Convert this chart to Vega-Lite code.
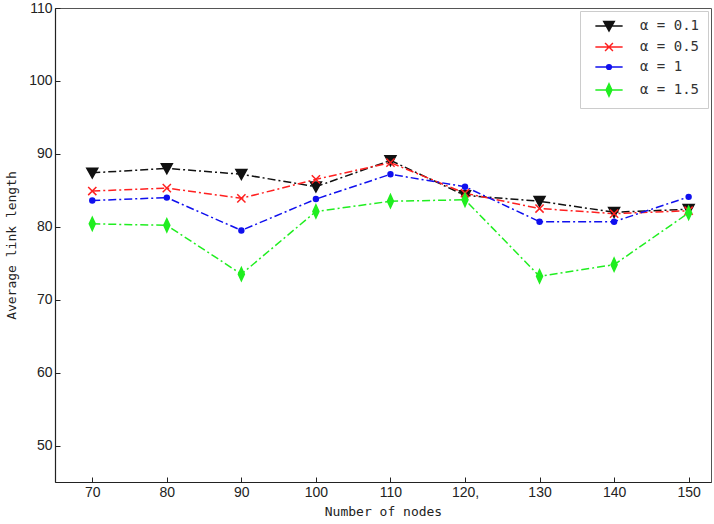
{
  "$schema": "https://vega.github.io/schema/vega-lite/v6.json",
  "width": 656,
  "height": 474,
  "autosize": "none",
  "padding": {"left": 55, "top": 8, "right": 3, "bottom": 42},
  "background": "white",
  "config": {
    "view": {"stroke": "#555", "strokeWidth": 1},
    "axis": {
      "grid": false,
      "domainColor": "#222",
      "domainWidth": 1.2,
      "tickColor": "#222",
      "tickSize": -5,
      "labelFont": "Liberation Sans",
      "labelFontSize": 14,
      "labelColor": "#222",
      "titleFont": "DejaVu Sans Mono",
      "titleFontSize": 13,
      "titleFontWeight": "normal",
      "titleColor": "#222"
    }
  },
  "data": {
    "values": [
      {"nodes": 70, "s": "α = 0.1", "v": 87.4},
      {"nodes": 80, "s": "α = 0.1", "v": 88.0},
      {"nodes": 90, "s": "α = 0.1", "v": 87.2},
      {"nodes": 100, "s": "α = 0.1", "v": 85.5},
      {"nodes": 110, "s": "α = 0.1", "v": 89.1},
      {"nodes": 120, "s": "α = 0.1", "v": 84.3},
      {"nodes": 130, "s": "α = 0.1", "v": 83.5},
      {"nodes": 140, "s": "α = 0.1", "v": 82.0},
      {"nodes": 150, "s": "α = 0.1", "v": 82.4},
      {"nodes": 70, "s": "α = 0.5", "v": 84.9},
      {"nodes": 80, "s": "α = 0.5", "v": 85.3},
      {"nodes": 90, "s": "α = 0.5", "v": 83.9},
      {"nodes": 100, "s": "α = 0.5", "v": 86.5},
      {"nodes": 110, "s": "α = 0.5", "v": 88.8},
      {"nodes": 120, "s": "α = 0.5", "v": 84.6},
      {"nodes": 130, "s": "α = 0.5", "v": 82.5},
      {"nodes": 140, "s": "α = 0.5", "v": 81.8},
      {"nodes": 150, "s": "α = 0.5", "v": 82.2},
      {"nodes": 70, "s": "α = 1", "v": 83.6},
      {"nodes": 80, "s": "α = 1", "v": 84.0},
      {"nodes": 90, "s": "α = 1", "v": 79.5},
      {"nodes": 100, "s": "α = 1", "v": 83.8},
      {"nodes": 110, "s": "α = 1", "v": 87.2},
      {"nodes": 120, "s": "α = 1", "v": 85.5},
      {"nodes": 130, "s": "α = 1", "v": 80.7},
      {"nodes": 140, "s": "α = 1", "v": 80.7},
      {"nodes": 150, "s": "α = 1", "v": 84.1},
      {"nodes": 70, "s": "α = 1.5", "v": 80.4},
      {"nodes": 80, "s": "α = 1.5", "v": 80.2},
      {"nodes": 90, "s": "α = 1.5", "v": 73.5},
      {"nodes": 100, "s": "α = 1.5", "v": 82.1},
      {"nodes": 110, "s": "α = 1.5", "v": 83.5},
      {"nodes": 120, "s": "α = 1.5", "v": 83.7},
      {"nodes": 130, "s": "α = 1.5", "v": 73.2},
      {"nodes": 140, "s": "α = 1.5", "v": 74.8},
      {"nodes": 150, "s": "α = 1.5", "v": 81.9}
    ]
  },
  "encoding": {
    "x": {
      "field": "nodes",
      "type": "quantitative",
      "scale": {"domain": [65, 153], "nice": false, "zero": false},
      "axis": {
        "title": "Number of nodes",
        "values": [70, 80, 90, 100, 110, 120, 130, 140, 150],
        "labelExpr": "datum.value == 120 ? '120,' : datum.label",
        "labelPadding": 8,
        "titlePadding": 6
      }
    },
    "y": {
      "field": "v",
      "type": "quantitative",
      "scale": {"domain": [45, 110], "nice": false, "zero": false},
      "axis": {
        "title": "Average link length",
        "values": [50, 60, 70, 80, 90, 100, 110],
        "labelPadding": 8,
        "titlePadding": 10
      }
    },
    "stroke": {
      "field": "s",
      "type": "nominal",
      "scale": {
        "domain": ["α = 0.1", "α = 0.5", "α = 1", "α = 1.5"],
        "range": ["#111111", "#ff2020", "#1010ee", "#20ee20"]
      },
      "legend": {
        "title": null,
        "orient": "top-right",
        "offset": 3,
        "padding": 8,
        "strokeColor": "#cccccc",
        "fillColor": "white",
        "labelFont": "DejaVu Sans Mono",
        "labelFontSize": 14,
        "labelColor": "#333",
        "rowPadding": 6,
        "symbolSize": 110,
        "symbolStrokeWidth": 1.5,
        "symbolOffset": 14,
        "labelOffset": 24,
        "symbolType": {
          "expr": "datum.value == 'α = 0.1' ? 'M-2.6,0H2.6M-1,-0.85L1,-0.85L0,0.95Z' : datum.value == 'α = 0.5' ? 'M-2.6,0H2.6M-0.75,-0.75L0.75,0.75M-0.75,0.75L0.75,-0.75' : datum.value == 'α = 1' ? 'M-2.6,0H2.6M0.45,0A0.45,0.45 0 1,1 -0.45,0A0.45,0.45 0 1,1 0.45,0Z' : 'M-2.6,0H2.6M0,-1.2L0.55,0L0,1.2L-0.55,0Z'"
        }
      }
    }
  },
  "layer": [
    {
      "mark": {"type": "line", "strokeWidth": 1.5, "strokeDash": [8, 3, 2, 3]},
      "encoding": {}
    },
    {
      "transform": [{"filter": {"field": "s", "equal": "α = 0.1"}}],
      "mark": {"type": "point", "filled": true, "strokeWidth": 1.5, "opacity": 1, "shape": "M-1,-0.85L1,-0.85L0,0.95Z", "size": 120},
      "encoding": {
        "fill": {
          "field": "s",
          "type": "nominal",
          "scale": {
            "domain": ["α = 0.1", "α = 0.5", "α = 1", "α = 1.5"],
            "range": ["#111111", "transparent", "#1010ee", "#20ee20"]
          }
        }
      }
    },
    {
      "transform": [{"filter": {"field": "s", "equal": "α = 0.5"}}],
      "mark": {"type": "point", "filled": false, "strokeWidth": 1.5, "opacity": 1, "shape": "M-0.75,-0.75L0.75,0.75M-0.75,0.75L0.75,-0.75", "size": 120},
      "encoding": {
        "fill": {"field": "s", "type": "nominal"}
      }
    },
    {
      "transform": [{"filter": {"field": "s", "equal": "α = 1"}}],
      "mark": {"type": "point", "filled": true, "strokeWidth": 1.5, "opacity": 1, "shape": "M0.45,0A0.45,0.45 0 1,1 -0.45,0A0.45,0.45 0 1,1 0.45,0Z", "size": 120},
      "encoding": {
        "fill": {"field": "s", "type": "nominal"}
      }
    },
    {
      "transform": [{"filter": {"field": "s", "equal": "α = 1.5"}}],
      "mark": {"type": "point", "filled": true, "strokeWidth": 1.5, "opacity": 1, "shape": "M0,-1.2L0.55,0L0,1.2L-0.55,0Z", "size": 120},
      "encoding": {
        "fill": {"field": "s", "type": "nominal"}
      }
    }
  ]
}
